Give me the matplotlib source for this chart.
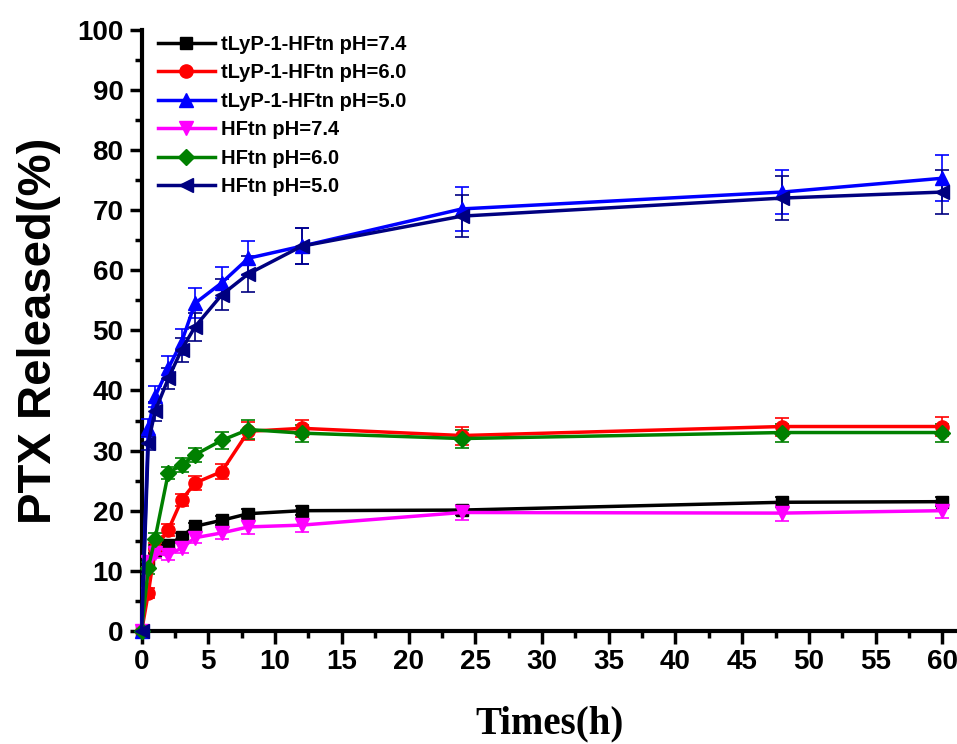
import matplotlib.pyplot as plt
from matplotlib.lines import Line2D
from matplotlib.ticker import MultipleLocator

# sampling times (h)
times = [0, 0.5, 1, 2, 3, 4, 6, 8, 12, 24, 48, 60]

# cumulative PTX release (%) and error bars
tlyp_74 = [0, 11.5, 13.5, 14.3, 15.7, 17.4, 18.4, 19.5, 20.0, 20.1, 21.4, 21.5]
tlyp_74_err = [0, 0.5, 0.5, 0.6, 0.6, 0.6, 0.7, 0.8, 0.7, 0.8, 0.8, 0.7]
tlyp_60 = [0, 6.3, 13.6, 16.8, 21.8, 24.6, 26.5, 33.2, 33.7, 32.5, 34.0, 34.0]
tlyp_60_err = [0, 0.8, 1.0, 1.0, 1.0, 1.2, 1.3, 1.5, 1.4, 1.5, 1.5, 1.6]
tlyp_50 = [0, 33.8, 39.0, 43.7, 48.1, 54.5, 57.9, 62.0, 64.0, 70.2, 73.0, 75.3]
tlyp_50_err = [0, 1.5, 1.8, 2.0, 2.2, 2.5, 2.6, 2.8, 3.0, 3.6, 3.6, 3.8]
hftn_74 = [0, 11.5, 13.0, 12.6, 13.8, 15.5, 16.3, 17.3, 17.6, 19.7, 19.6, 20.0]
hftn_74_err = [0, 0.8, 0.8, 0.8, 0.8, 0.9, 1.0, 1.2, 1.1, 1.3, 1.3, 1.3]
hftn_60 = [0, 10.5, 15.3, 26.3, 27.6, 29.3, 31.7, 33.5, 32.9, 32.0, 33.0, 33.0]
hftn_60_err = [0, 1.0, 1.0, 1.0, 1.1, 1.2, 1.4, 1.6, 1.4, 1.5, 1.5, 1.5]
hftn_50 = [0, 31.3, 36.5, 42.0, 46.8, 50.6, 55.9, 59.4, 64.0, 69.0, 72.0, 73.0]
hftn_50_err = [0, 1.2, 1.5, 1.8, 2.0, 2.3, 2.6, 3.0, 3.0, 3.5, 3.6, 3.6]

series = [
    ("tLyP-1-HFtn pH=7.4", tlyp_74, tlyp_74_err, "black", "s", 8.5),
    ("tLyP-1-HFtn pH=6.0", tlyp_60, tlyp_60_err, "red", "o", 9.5),
    ("tLyP-1-HFtn pH=5.0", tlyp_50, tlyp_50_err, "blue", "^", 10.5),
    ("HFtn pH=7.4", hftn_74, hftn_74_err, "magenta", "v", 10.5),
    ("HFtn pH=6.0", hftn_60, hftn_60_err, "green", "D", 8.5),
    ("HFtn pH=5.0", hftn_50, hftn_50_err, "navy", "<", 10.5),
]

fig = plt.figure(figsize=(9.57, 7.44), dpi=100)
ax = fig.add_axes([0.148, 0.152, 0.852, 0.808])

handles = []
for label, vals, err, color, marker, ms in series:
    ax.errorbar(times, vals, yerr=err, color=color, marker=marker, markersize=ms,
                linewidth=2.5, elinewidth=1.2, capsize=5, capthick=1.2,
                clip_on=False, zorder=3)
    # legend shows only line + marker, no error bar
    handles.append(Line2D([], [], color=color, marker=marker, markersize=ms,
                          linewidth=2.5, label=label))

ax.set_xlim(0, 61.1)
ax.set_ylim(0, 100)
ax.xaxis.set_major_locator(MultipleLocator(5))
ax.xaxis.set_minor_locator(MultipleLocator(2.5))
ax.yaxis.set_major_locator(MultipleLocator(10))
ax.yaxis.set_minor_locator(MultipleLocator(5))

for side in ["top", "right"]:
    ax.spines[side].set_visible(False)
for side in ["left", "bottom"]:
    ax.spines[side].set_linewidth(3)

ax.tick_params(which="major", direction="out", length=9, width=2.5,
               labelsize=20, pad=4)
ax.tick_params(which="minor", direction="out", length=5, width=2.5)
for lab in ax.get_xticklabels() + ax.get_yticklabels():
    lab.set_fontfamily("Liberation Sans")
    lab.set_fontweight("bold")

ax.set_ylabel("PTX Released(%)", fontsize=34, fontweight="bold",
              family="Liberation Sans", labelpad=12)
ax.set_xlabel("Times(h)", fontsize=28, fontweight="bold",
              family="Liberation Serif", labelpad=22)

ax.legend(handles=handles, loc="upper left", bbox_to_anchor=(0.003, 1.015),
          frameon=False,
          prop={"family": "Liberation Sans", "weight": "bold", "size": 14.5},
          handlelength=2.8, handletextpad=0.3, labelspacing=0.47,
          borderaxespad=0.3)

plt.savefig("out.png", dpi=100)
plt.close()
